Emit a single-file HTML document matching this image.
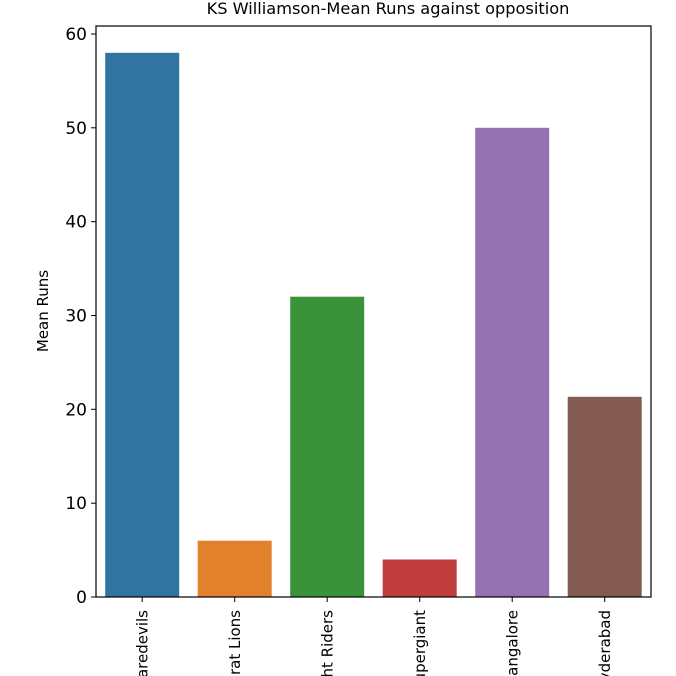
<!DOCTYPE html>
<html><head><meta charset="utf-8"><style>
html,body{margin:0;padding:0;background:#fff;width:676px;height:676px;overflow:hidden;}
svg{display:block;overflow:hidden;font-family:"DejaVu Sans","Liberation Sans",sans-serif;}
</style></head><body>
<svg width="676" height="676" viewBox="0 0 676 676" xmlns="http://www.w3.org/2000/svg">
<rect width="676" height="676" fill="#fff"/>
<text x="388" y="14" font-size="16.2" text-anchor="middle" fill="#000">KS Williamson-Mean Runs against opposition</text>
<g>
<rect x="105.2" y="52.8" width="74" height="544.2" fill="#3274a1"/>
<rect x="197.7" y="540.7" width="74" height="56.3" fill="#e1812c"/>
<rect x="290.2" y="296.7" width="74" height="300.3" fill="#3a923a"/>
<rect x="382.7" y="559.5" width="74" height="37.5" fill="#c03d3e"/>
<rect x="475.2" y="127.8" width="74" height="469.2" fill="#9372b2"/>
<rect x="567.7" y="396.8" width="74" height="200.2" fill="#845b53"/>
</g>
<rect x="96" y="26" width="555" height="571" fill="none" stroke="#000" stroke-width="1.2"/>
<g stroke="#000" stroke-width="1">
<line x1="91" y1="597" x2="96" y2="597"/>
<line x1="91" y1="503.2" x2="96" y2="503.2"/>
<line x1="91" y1="409.3" x2="96" y2="409.3"/>
<line x1="91" y1="315.5" x2="96" y2="315.5"/>
<line x1="91" y1="221.7" x2="96" y2="221.7"/>
<line x1="91" y1="127.8" x2="96" y2="127.8"/>
<line x1="91" y1="34" x2="96" y2="34"/>
<line x1="142.2" y1="597" x2="142.2" y2="602"/>
<line x1="234.7" y1="597" x2="234.7" y2="602"/>
<line x1="327.2" y1="597" x2="327.2" y2="602"/>
<line x1="419.7" y1="597" x2="419.7" y2="602"/>
<line x1="512.2" y1="597" x2="512.2" y2="602"/>
<line x1="604.7" y1="597" x2="604.7" y2="602"/>
</g>
<g font-size="17" text-anchor="end" fill="#000">
<text x="87" y="603">0</text>
<text x="87" y="509.2">10</text>
<text x="87" y="415.3">20</text>
<text x="87" y="321.5">30</text>
<text x="87" y="227.7">40</text>
<text x="87" y="133.8">50</text>
<text x="87" y="40">60</text>
</g>
<text transform="translate(48,311) rotate(-90)" font-size="15" text-anchor="middle">Mean Runs</text>
<g font-size="15" text-anchor="end" fill="#000">
<text transform="translate(147.5,610) rotate(-90)">Delhi Daredevils</text>
<text transform="translate(240,610) rotate(-90)">Gujarat Lions</text>
<text transform="translate(332.5,610) rotate(-90)">Kolkata Knight Riders</text>
<text transform="translate(425,610) rotate(-90)">Rising Pune Supergiant</text>
<text transform="translate(517.5,610) rotate(-90)">Royal Challengers Bangalore</text>
<text transform="translate(610,610) rotate(-90)">Sunrisers Hyderabad</text>
</g>
</svg>
</body></html>
